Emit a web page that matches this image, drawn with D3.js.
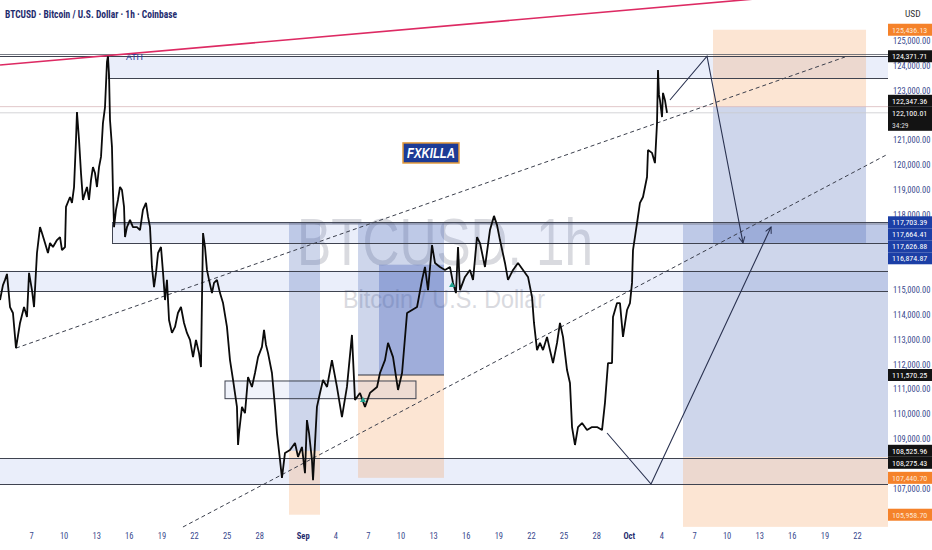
<!DOCTYPE html>
<html><head><meta charset="utf-8">
<script src="https://cdn.jsdelivr.net/npm/d3@7"></script>
<style>body{margin:0;background:#fff}svg{display:block}</style>
</head><body>
<svg id="c" width="932" height="550"></svg>
<script>
// ---------------- DATA (days since 1 Aug 2025 UTC, prices in USD) ----------------
const btcPath = [
[3.15,114580],[3.42,115180],[3.61,115390],[3.79,115630],[4.07,114300],[4.34,114060],[4.62,112650],[4.99,113660],[5.36,114300],[5.63,113900],
[5.82,115670],[6.09,114980],[6.28,114300],[6.55,116470],[6.83,117510],[7.01,117270],[7.29,116870],[7.56,116470],[7.75,116870],[8.02,116710],
[8.39,116990],[8.67,117110],[8.85,116590],[9.13,116710],[9.22,118320],[9.59,118720],[9.77,118480],[9.96,119120],[10.14,121010],[10.23,122130],
[10.42,121010],[10.60,119680],[10.78,118600],[10.97,118880],[11.15,119120],[11.34,118600],[11.52,119400],[11.70,119920],[11.89,119680],[12.07,119120],
[12.26,119920],[12.44,120330],[12.62,121690],[12.81,122330],[12.99,124140],[13.08,124370],[13.18,123620],[13.27,121810],[13.45,120730],[13.54,119000],
[13.64,117510],[13.82,118200],[14.00,118600],[14.19,119120],[14.37,119000],[14.56,118320],[14.65,117110],[14.83,117510],[15.11,117800],[15.38,117510],
[15.75,117510],[16.03,117390],[16.30,118200],[16.58,118480],[16.77,117920],[16.95,117510],[17.13,115910],[17.32,115100],[17.50,115670],[17.69,116470],
[17.96,116710],[18.15,115670],[18.33,114580],[18.51,115390],[18.70,113780],[18.97,113260],[19.25,113500],[19.52,114060],[19.80,114300],[20.08,113660],
[20.35,113260],[20.63,112980],[20.91,112290],[21.18,112980],[21.46,112450],[21.64,111890],[21.73,114580],[21.83,117270],[22.01,116710],[22.19,115790],
[22.38,115390],[22.65,114860],[22.84,115270],[23.11,115390],[23.39,114860],[23.67,114460],[24.03,113500],[24.31,112170],[24.59,111370],[24.95,110290],
[25.05,108760],[25.14,109240],[25.41,110290],[25.69,110040],[25.97,111490],[26.33,111090],[26.61,111650],[26.89,112290],[27.25,112700],[27.44,113380],
[27.62,112780],[27.81,112450],[28.17,111650],[28.45,110290],[28.63,109240],[28.91,108160],[29.09,107440],[29.37,108440],[29.83,108560],[30.29,108840],
[30.57,108280],[30.93,108680],[31.21,107630],[31.39,109760],[31.58,109240],[31.85,108160],[31.95,107350],[32.31,110290],[32.59,110850],[32.87,111370],
[33.24,111090],[33.69,112170],[34.15,111090],[34.61,109880],[35.07,111090],[35.53,113180],[35.81,110570],[36.27,110850],[36.73,110290],[37.19,110850],
[37.84,111090],[38.11,111650],[38.57,112170],[38.85,112860],[39.31,112290],[39.77,110970],[40.14,111650],[40.60,114060],[41.06,114180],[41.52,114300],
[41.98,115390],[42.25,115910],[42.53,114980],[42.90,116790],[43.17,116070],[43.63,115910],[44.09,115790],[44.55,115910],[44.83,115270],[45.10,114860],
[45.29,116710],[45.47,114980],[45.93,115510],[46.39,115790],[46.67,115390],[47.04,117110],[47.31,116870],[47.77,115910],[48.23,117390],[48.60,117960],
[48.88,117590],[49.15,116990],[49.61,116070],[49.89,115390],[50.35,115790],[50.81,116070],[51.27,115790],[51.73,115510],[52.10,114700],[52.28,113660],
[52.56,112570],[52.83,112860],[53.11,112570],[53.48,113100],[53.75,112570],[54.03,112050],[54.40,112860],[54.67,113660],[54.95,113100],[55.32,111770],
[55.59,111250],[55.78,109480],[56.05,108760],[56.33,109480],[56.70,109640],[57.16,109360],[57.62,109480],[58.08,109480],[58.54,109360],[58.81,110450],
[59.09,112050],[59.46,112050],[59.55,113900],[59.92,114460],[60.19,114460],[60.47,113100],[60.84,114180],[61.11,114460],[61.30,115270],[61.39,116590],
[61.76,117670],[62.03,118480],[62.31,118720],[62.68,119520],[62.77,120610],[63.14,120490],[63.41,120080],[63.60,121690],[63.69,123820],[63.78,122820],
[63.87,122610],[64.06,121930],[64.15,122900],[64.33,122610],[64.52,122100]
];
const priceTicks = [125000,124000,123000,122000,121000,120000,119000,118000,117000,116000,115000,114000,113000,112000,111000,110000,109000,108000,107000];
const dateTickDays = [6,9,12,15,18,21,24,27,31,34,37,40,43,46,49,52,55,58,61,64,67,70,73,76,79,82];
const dateTickLabels = ["7","10","13","16","19","22","25","28","Sep","4","7","10","13","16","19","22","25","28","Oct","4","7","10","13","16","19","22"];
const monthLabels = ["Sep","Oct"];

// drawn levels / zones (price units, days)
const zoneStart = [13.08, 13.45, 0, 0];
const zoneTop = [124371.71, 117703.39, 115750, 108230];
const zoneBottom = [123500, 116874.87, 114925, 107193];
const zoneLeftEdge = [true, true, false, false];
const fullLevels = [124450, 124371.71];
const zoneInnerLevels = [117664.41, 117626.88];
const lastPriceLevels = [122347.36, 122100.01];
const smallBox = {d0: 23.85, d1: 41.42, top: 111330, bottom: 110620};

// positions (risk/reward tools)
const posStart = [29.74, 36.09, 65.99, 68.75];
const posEnd = [32.59, 44.0, 90, 82.83];
const posEntry = [108525.96, 111570.25, 108275.43, 122347.36];
const posTarget = [117703.39, 117664.41, 117626.88, 116874.87];
const posStop = [105958.70, 107440.70, 105470, 125436.13];
const innerBox = {d0: 38.02, d1: 44.0, top: 116000, bottom: 111570.25};

// trend lines
const pinkLine = [[3.15,124020],[84.86,127140]];
const channelA = [[4.62,112650],[80.89,124340]];
const channelB = [[19.98,105466],[84.86,120446]];
const shortPath = [[64.79,122614],[68.20,124371.71],[71.51,116875]];
const longPath = [[59.00,109241],[63.05,107193],[74.09,117514]];
const markers = [[36.55,110570],[44.74,115185]];
const badge = {d0: 40.23, d1: 45.38, top: 120890, bottom: 120085, text: "FXKILLA"};

// right-axis price labels
const axisLabelPrices = [125436.13,124371.71,122347.36,122100.01,117703.39,117664.41,117626.88,116874.87,111570.25,108525.96,108275.43,107440.70,105958.70];
const axisLabelKinds = ["stop","line","line","last","target","target","target","target","line","line","line","stop","stop"];
const countdown = "34:29";

// ---------------- CHART ----------------
const W = 932, H = 550, PR = 888, PB = 528;
const T0 = Date.UTC(2025, 7, 1), DAY = 864e5;
const toDate = d => new Date(T0 + d * DAY);
const x = d3.scaleTime().domain([toDate(6), toDate(82)]).range([31, 857]);
const y = d3.scaleLinear().domain([119000, 110000]).range([190, 414.1]);
const X = d => x(toDate(d));
const svg = d3.select("#c");
const FONT = "'Liberation Sans Narrow','Arial Narrow','Roboto Condensed','Liberation Sans',sans-serif";
const NAVY = "#3a4a8e";

svg.append("rect").attr("width", W).attr("height", H).attr("fill", "#fff");
const defs = svg.append("defs");
defs.append("clipPath").attr("id", "plot").append("rect").attr("x", 0).attr("y", 0).attr("width", PR).attr("height", PB);
defs.append("marker").attr("id", "arr").attr("viewBox", "0 0 10 10").attr("refX", 9).attr("refY", 5)
  .attr("markerWidth", 7).attr("markerHeight", 7).attr("orient", "auto-start-reverse")
  .append("path").attr("d", "M1,1 L9,5 L1,9").attr("fill", "none").attr("stroke", "#2a3250").attr("stroke-width", 1.3);

const g = svg.append("g").attr("clip-path", "url(#plot)");

// watermark
g.append("text").attr("x", 297).attr("y", 265).attr("font-family", "'Liberation Sans',Arial,sans-serif").attr("font-size", 67)
  .attr("textLength", 296).attr("lengthAdjust", "spacingAndGlyphs").attr("fill", "#d9dadf").text("BTCUSD, 1h");
g.append("text").attr("x", 343).attr("y", 308).attr("font-family", "'Liberation Sans',Arial,sans-serif").attr("font-size", 25)
  .attr("textLength", 202).attr("lengthAdjust", "spacingAndGlyphs").attr("fill", "#d9dadf").text("Bitcoin / U.S. Dollar");

const xs = d => (d <= 0 ? -5 : X(d));
// zones
zoneTop.forEach((t, i) => {
  const x0 = xs(zoneStart[i]);
  g.append("rect").attr("x", x0).attr("y", y(t)).attr("width", PR - x0).attr("height", y(zoneBottom[i]) - y(t))
    .attr("fill", "rgba(60,100,210,0.11)");
});
// positions
posEntry.forEach((e, i) => {
  const x0 = X(posStart[i]), x1 = Math.min(X(posEnd[i]), PR);
  const tt = Math.min(y(e), y(posTarget[i])), tb = Math.max(y(e), y(posTarget[i]));
  const st = Math.min(y(e), y(posStop[i])), sb = Math.max(y(e), y(posStop[i]));
  g.append("rect").attr("x", x0).attr("y", tt).attr("width", x1 - x0).attr("height", tb - tt).attr("fill", "rgba(60,90,175,0.25)");
  g.append("rect").attr("x", x0).attr("y", st).attr("width", x1 - x0).attr("height", sb - st).attr("fill", "rgba(245,150,80,0.25)");
});
g.append("rect").attr("x", X(innerBox.d0)).attr("y", y(innerBox.top)).attr("width", X(innerBox.d1) - X(innerBox.d0))
  .attr("height", y(innerBox.bottom) - y(innerBox.top)).attr("fill", "rgba(50,80,180,0.3)");

// zone borders
const LINE = "#3f4350";
zoneTop.forEach((t, i) => {
  const x0 = xs(zoneStart[i]);
  [t, zoneBottom[i]].forEach(p => g.append("line").attr("x1", x0).attr("x2", PR).attr("y1", Math.round(y(p)) + .5).attr("y2", Math.round(y(p)) + .5)
    .attr("stroke", LINE).attr("stroke-width", 1));
  if (zoneLeftEdge[i]) g.append("line").attr("x1", Math.round(x0) + .5).attr("x2", Math.round(x0) + .5).attr("y1", y(t)).attr("y2", y(zoneBottom[i])).attr("stroke", LINE);
});
zoneInnerLevels.forEach(p => g.append("line").attr("x1", X(zoneStart[1])).attr("x2", PR).attr("y1", y(p)).attr("y2", y(p)).attr("stroke", "#6a7088").attr("stroke-width", 0.6));
// ATH levels with text gap
const athX = 126, athW = 17;
fullLevels.forEach((p, i) => {
  const yy = Math.round(y(p)) + .5;
  if (i === 1) {
    g.append("line").attr("x1", 0).attr("x2", athX - 2).attr("y1", yy).attr("y2", yy).attr("stroke", LINE);
    g.append("line").attr("x1", athX + athW + 2).attr("x2", PR).attr("y1", yy).attr("y2", yy).attr("stroke", LINE);
  } else {
    g.append("line").attr("x1", 0).attr("x2", PR).attr("y1", yy).attr("y2", yy).attr("stroke", "#555a66").attr("stroke-width", 0.8);
  }
});
g.append("text").attr("x", athX).attr("y", y(fullLevels[1]) + 3.5).attr("font-family", "'Liberation Sans',Arial,sans-serif").attr("font-size", 9)
  .attr("textLength", athW).attr("lengthAdjust", "spacingAndGlyphs").attr("fill", "#233597").text("ATH");
lastPriceLevels.forEach((p, i) => g.append("line").attr("x1", 0).attr("x2", PR).attr("y1", y(p)).attr("y2", y(p))
  .attr("stroke", i === 0 ? "#d9b9bb" : "#c9c9cd").attr("stroke-width", 0.8));
// small box
g.append("rect").attr("x", X(smallBox.d0)).attr("y", y(smallBox.top)).attr("width", X(smallBox.d1) - X(smallBox.d0))
  .attr("height", y(smallBox.bottom) - y(smallBox.top)).attr("fill", "rgba(60,100,210,0.08)").attr("stroke", LINE);
// entry line of the middle position
g.append("line").attr("x1", X(posStart[1])).attr("x2", X(posEnd[1])).attr("y1", y(posEntry[1])).attr("y2", y(posEntry[1])).attr("stroke", "#30343f");

const line = d3.line().x(d => X(d[0])).y(d => y(d[1]));
// trend lines
g.append("path").attr("d", line(pinkLine)).attr("stroke", "#dd2a63").attr("stroke-width", 1.6).attr("fill", "none");
[channelA, channelB].forEach(c => g.append("path").attr("d", line(c)).attr("stroke", "#3b3f4c").attr("stroke-width", 1)
  .attr("stroke-dasharray", "4,3").attr("fill", "none"));

// price path
g.append("path").attr("d", line(btcPath)).attr("stroke", "#0b0b0b").attr("stroke-width", 1.8).attr("fill", "none").attr("stroke-linejoin", "bevel");

// markers
markers.forEach(m => g.append("path").attr("transform", `translate(${X(m[0])},${y(m[1])})`).attr("d", "M-3,2 L3,2 L0,-3 Z").attr("fill", "#1fa38f"));

// projection arrows
[shortPath, longPath].forEach(pth => g.append("path").attr("d", line(pth)).attr("stroke", "#2a3250").attr("stroke-width", 1.1)
  .attr("fill", "none").attr("marker-end", "url(#arr)"));

// badge
const bx0 = X(badge.d0), bx1 = X(badge.d1), by0 = y(badge.top), by1 = y(badge.bottom);
g.append("rect").attr("x", bx0).attr("y", by0).attr("width", bx1 - bx0).attr("height", by1 - by0)
  .attr("fill", "#1d3b96").attr("stroke", "#e39a3b").attr("stroke-width", 1.5);
g.append("text").attr("x", (bx0 + bx1) / 2 - 24).attr("y", (by0 + by1) / 2 + 5).attr("font-family", "'Liberation Sans',Arial,sans-serif")
  .attr("font-size", 14).attr("font-weight", "bold").attr("font-style", "italic").attr("fill", "#fff")
  .attr("textLength", 48).attr("lengthAdjust", "spacingAndGlyphs").text(badge.text);

// title
svg.append("text").attr("x", 5).attr("y", 18).attr("font-family", FONT).attr("font-size", 10.5).attr("font-weight", "bold")
  .attr("fill", "#1f2c6e").attr("textLength", 172).attr("lengthAdjust", "spacingAndGlyphs")
  .text("BTCUSD · Bitcoin / U.S. Dollar · 1h · Coinbase");

// price labels with collision handling (computed first so covered ticks can be hidden)
const LH = 12;
const labs = axisLabelPrices.map((p, i) => ({p, kind: axisLabelKinds[i], cy: y(p)}));
const anchor = labs.find(l => l.kind === "last");
let lim = anchor.cy - LH / 2;
labs.filter(l => l !== anchor && l.cy <= anchor.cy).sort((a, b) => b.cy - a.cy).forEach(l => {
  if (l.cy + LH / 2 > lim) l.cy = lim - LH / 2; lim = l.cy - LH / 2;
});
lim = anchor.cy + LH / 2 + 12;
labs.filter(l => l !== anchor && l.cy > anchor.cy).sort((a, b) => a.cy - b.cy).forEach(l => {
  if (l.cy - LH / 2 < lim) l.cy = lim + LH / 2; lim = l.cy + LH / 2;
});
labs.forEach(l => { l.top = l.cy - LH / 2; l.bot = l.top + (l.kind === "last" ? LH + 12 : LH); });

// axes
svg.append("rect").attr("x", PR).attr("y", 0).attr("width", W - PR).attr("height", H).attr("fill", "#fff");
const ay = svg.append("g").attr("transform", `translate(${PR},0)`)
  .call(d3.axisRight(y).tickValues(priceTicks).tickFormat(d3.format(",.2f")).tickSize(0).tickPadding(5));
ay.select(".domain").remove();
ay.selectAll(".tick").filter(d => labs.some(l => Math.min(l.bot, y(d) + 4) - Math.max(l.top, y(d) - 4) > 3)).remove();
ay.selectAll("text").attr("font-family", FONT).attr("font-size", 8.5).attr("fill", NAVY);
const ax = svg.append("g").attr("transform", `translate(0,${PB + 2})`)
  .call(d3.axisBottom(x).tickValues(dateTickDays.map(toDate)).tickFormat((d, i) => dateTickLabels[i]).tickSize(0).tickPadding(3));
ax.select(".domain").remove();
ax.selectAll("text").attr("font-family", FONT).attr("font-size", 8.5)
  .attr("font-weight", (d, i) => monthLabels.includes(dateTickLabels[i]) ? "bold" : "normal")
  .attr("fill", (d, i) => monthLabels.includes(dateTickLabels[i]) ? "#1f2c6e" : NAVY);
svg.append("text").attr("x", 905).attr("y", 17).attr("font-family", FONT).attr("font-size", 9.5).attr("fill", "#333").text("USD");

const bg = {stop: "#f5822a", line: "#131313", last: "#131313", target: "#1c3fa6"};
labs.forEach(l => {
  svg.append("rect").attr("x", PR).attr("y", l.top).attr("width", W - PR).attr("height", l.bot - l.top).attr("fill", bg[l.kind]);
  svg.append("text").attr("x", PR + 4).attr("y", l.cy + 3).attr("font-family", FONT).attr("font-size", 8)
    .attr("fill", l.kind === "stop" ? "#fde6d4" : "#fff").text(d3.format(",.2f")(l.p));
  if (l.kind === "last") svg.append("text").attr("x", PR + 4).attr("y", l.cy + 15).attr("font-family", FONT).attr("font-size", 7.5)
    .attr("fill", "#ddd").text(countdown);
});
</script>
</body></html>
